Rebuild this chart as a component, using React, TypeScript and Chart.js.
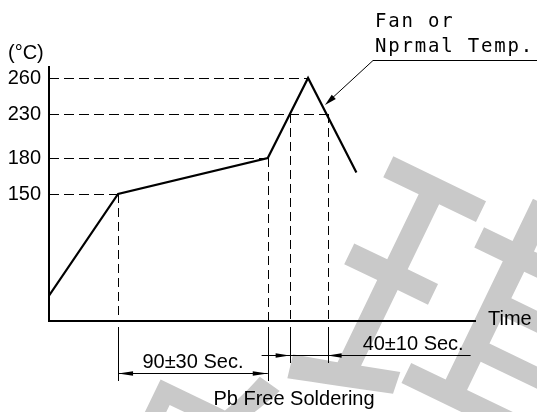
import { useEffect, useRef } from 'react';
import { Chart, registerables, LinearScale } from 'chart.js';

Chart.register(...registerables);

// ---- data ----
const TIME_S = [0, 60, 190, 225, 267];
const TEMP_C = [30, 150, 180, 260, 168];
const TEMP_TICKS = [150, 180, 230, 260];
const GUIDE_END_S = [60, 190, 242, 225]; // where each dashed level line meets the profile
const DROP_TIME_S = [60, 190, 209, 242];
const DROP_TEMP_C = [150, 180, 230, 230];
const PREHEAT_LABEL = '90±30 Sec.';
const PEAK_LABEL = '40±10 Sec.';
const NOTE_LINES = ['Fan or', 'Nprmal Temp.'];
const UNIT_LABEL = '(°C)';
const X_LABEL = 'Time';
const TITLE = 'Pb Free Soldering';
const WATERMARK = ['琪', '向'];

const SANS = '"Liberation Sans", Arial, sans-serif';

// schematic (non-proportional) temperature axis
const BREAK_T = [0, 150, 180, 230, 260, 270];
const BREAK_F = [0, 0.5, 0.6417, 0.815, 0.9567, 1];
function toFrac(v: number) {
  for (let i = 1; i < BREAK_T.length; i++) {
    if (v <= BREAK_T[i] || i === BREAK_T.length - 1) {
      const a = BREAK_T[i - 1], b = BREAK_T[i];
      return BREAK_F[i - 1] + ((v - a) / (b - a)) * (BREAK_F[i] - BREAK_F[i - 1]);
    }
  }
  return 0;
}
function fromFrac(f: number) {
  for (let i = 1; i < BREAK_F.length; i++) {
    if (f <= BREAK_F[i] || i === BREAK_F.length - 1) {
      const a = BREAK_F[i - 1], b = BREAK_F[i];
      return BREAK_T[i - 1] + ((f - a) / (b - a)) * (BREAK_T[i] - BREAK_T[i - 1]);
    }
  }
  return 0;
}

class BrokenScale extends LinearScale {
  getPixelForValue(value: any) {
    if (value === null || value === undefined) return NaN;
    return this.getPixelForDecimal(toFrac(value));
  }
  getValueForPixel(pixel: number) {
    return fromFrac(this.getDecimalForPixel(pixel));
  }
}
(BrokenScale as any).id = 'broken';
(BrokenScale as any).defaults = (LinearScale as any).defaults;
Chart.register(BrokenScale as any);

function arrowHead(ctx: CanvasRenderingContext2D, tipX: number, tipY: number, fromX: number, fromY: number, len: number, half: number) {
  const dx = tipX - fromX, dy = tipY - fromY;
  const d = Math.hypot(dx, dy) || 1;
  const ux = dx / d, uy = dy / d;
  const bx = tipX - ux * len, by = tipY - uy * len;
  ctx.beginPath();
  ctx.moveTo(tipX, tipY);
  ctx.lineTo(bx - uy * half, by + ux * half);
  ctx.lineTo(bx + uy * half, by - ux * half);
  ctx.closePath();
  ctx.fill();
}

function line(ctx: CanvasRenderingContext2D, x1: number, y1: number, x2: number, y2: number) {
  ctx.beginPath();
  ctx.moveTo(x1, y1);
  ctx.lineTo(x2, y2);
  ctx.stroke();
}

const decor = {
  id: 'decor',
  beforeDraw(chart: any) {
    const ctx = chart.ctx as CanvasRenderingContext2D;
    ctx.save();
    ctx.fillStyle = '#fff';
    ctx.fillRect(0, 0, chart.width, chart.height);
    ctx.fillStyle = '#c9c9c9';
    ctx.textAlign = 'center';
    ctx.textBaseline = 'middle';
    ctx.font = '330px "Noto Sans CJK SC"';
    ctx.save();
    ctx.translate(472, 338);
    ctx.rotate(0.45);
    ctx.fillText(WATERMARK[0], 0, 0);
    ctx.restore();
    ctx.font = '260px "Noto Sans CJK SC"';
    ctx.save();
    ctx.translate(222, 492);
    ctx.rotate(0.45);
    ctx.fillText(WATERMARK[1], 0, 0);
    ctx.restore();
    ctx.restore();
  },
  afterDraw(chart: any) {
    const ctx = chart.ctx as CanvasRenderingContext2D;
    const xs = chart.scales.x, ys = chart.scales.y;
    const X = (t: number) => xs.getPixelForValue(t);
    const Y = (v: number) => ys.getPixelForValue(v);
    const { left, bottom, right } = chart.chartArea;
    ctx.save();
    ctx.strokeStyle = '#000';
    ctx.fillStyle = '#000';
    ctx.lineWidth = 1;

    // horizontal dashed level lines
    ctx.setLineDash([10, 5]);
    TEMP_TICKS.forEach((t, i) => {
      const y = Math.round(Y(t)) + 0.5;
      line(ctx, left, y, X(GUIDE_END_S[i]), y);
    });
    // vertical dashed drops
    ctx.setLineDash([9, 5]);
    DROP_TIME_S.forEach((s, i) => {
      const x = Math.round(X(s)) + 0.5;
      line(ctx, x, Y(DROP_TEMP_C[i]), x, bottom);
    });
    ctx.setLineDash([]);
    // extension lines below the axis
    DROP_TIME_S.forEach((s, i) => {
      const x = Math.round(X(s)) + 0.5;
      line(ctx, x, bottom + 6, x, bottom + (i < 2 ? 60 : 42));
    });

    // 90±30 dimension
    const y90 = bottom + 52.5;
    const a = X(DROP_TIME_S[0]), b = X(DROP_TIME_S[1]);
    line(ctx, a, y90, b, y90);
    arrowHead(ctx, a, y90, a + 10, y90, 15, 2.3);
    arrowHead(ctx, b, y90, b - 10, y90, 15, 2.3);

    // 40±10 dimension
    const y40 = bottom + 34.5;
    const c = X(DROP_TIME_S[2]), d = X(DROP_TIME_S[3]);
    line(ctx, c - 28, y40, d + 143, y40);
    arrowHead(ctx, c, y40, c - 10, y40, 14, 2.3);
    arrowHead(ctx, d, y40, d + 10, y40, 14, 2.3);

    // texts
    ctx.font = `20px ${SANS}`;
    ctx.textBaseline = 'alphabetic';
    ctx.textAlign = 'center';
    ctx.fillText(PREHEAT_LABEL, (a + b) / 2, bottom + 47);
    ctx.textAlign = 'left';
    ctx.fillText(PEAK_LABEL, d + 35, bottom + 29);
    ctx.fillText(X_LABEL, right + 13, bottom + 4);
    ctx.fillText(UNIT_LABEL, 8, 59);
    ctx.textAlign = 'center';
    ctx.fillText(TITLE, 294, 404.5);

    // leader with note
    line(ctx, 373, 60.5, chart.width, 60.5);
    line(ctx, 373, 60.5, 329, 101);
    arrowHead(ctx, 325, 105, 373, 60.5, 12, 3);
    ctx.font = '19px "DejaVu Sans Mono", monospace';
    (ctx as any).letterSpacing = '1.8px';
    ctx.textAlign = 'left';
    ctx.fillText(NOTE_LINES[0], 375, 27);
    ctx.fillText(NOTE_LINES[1], 375, 52);
    ctx.restore();
  },
};

export default function App() {
  const ref = useRef<HTMLCanvasElement>(null);
  useEffect(() => {
    const canvas = ref.current;
    if (!canvas) return;
    const chart = new Chart(canvas, {
      type: 'line',
      data: {
        datasets: [
          {
            data: TIME_S.map((t, i) => ({ x: t, y: TEMP_C[i] })),
            borderColor: '#000',
            borderWidth: 2.2,
            pointRadius: 0,
            tension: 0,
            fill: false,
          },
        ],
      },
      options: {
        animation: false,
        responsive: false,
        devicePixelRatio: 1,
        events: [],
        layout: { padding: { top: 67, right: 62, left: 0, bottom: 0 } },
        plugins: { legend: { display: false }, tooltip: { enabled: false }, title: { display: false } },
        scales: {
          x: {
            type: 'linear',
            min: 0,
            max: 370,
            grid: { display: false, drawTicks: false },
            ticks: { display: false },
            border: { display: true, color: '#000', width: 2 },
            afterFit: (s: any) => { s.height = 91; },
          },
          y: {
            type: 'broken' as any,
            min: 0,
            max: 270,
            afterBuildTicks: (s: any) => { s.ticks = TEMP_TICKS.map((v) => ({ value: v })); },
            grid: { display: false, drawTicks: false },
            border: { display: true, color: '#000', width: 2 },
            ticks: {
              autoSkip: false,
              padding: 8,
              color: '#000',
              font: { size: 20, family: SANS },
              callback: (v: any) => String(v),
            },
            afterFit: (s: any) => { s.width = 49; },
          },
        },
      },
      plugins: [decor],
    } as any);
    return () => chart.destroy();
  }, []);
  return (
    <div style={{ position: 'absolute', left: 0, top: 0, width: 537, height: 412 }}>
      <canvas ref={ref} width={537} height={412} style={{ display: 'block' }} />
    </div>
  );
}
